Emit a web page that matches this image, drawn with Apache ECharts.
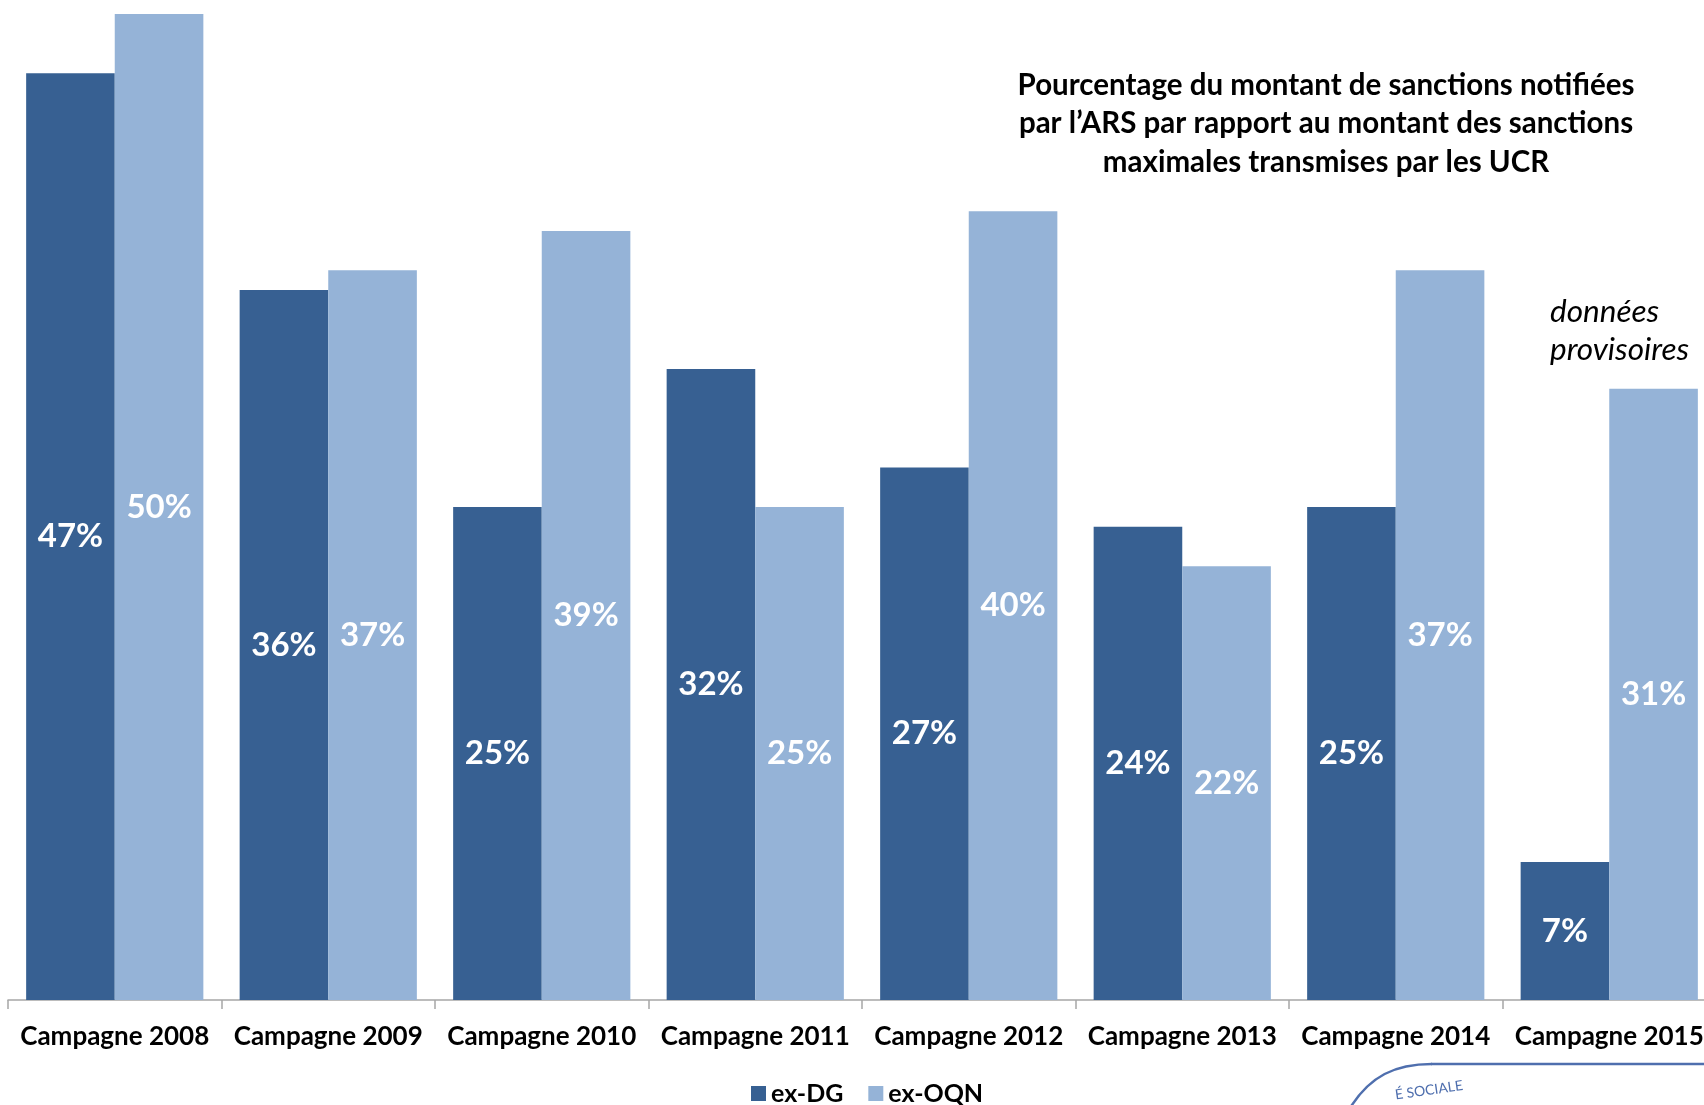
<!DOCTYPE html>
<html>
<head>
<meta charset="utf-8">
<script src="https://cdn.jsdelivr.net/npm/echarts@6/dist/echarts.min.js"></script>
<style>
  html, body { margin: 0; padding: 0; background: #ffffff; }
  #chart { width: 1704px; height: 1105px; }
</style>
</head>
<body>
<div id="chart"></div>
<script>
// Campaigns on the horizontal axis
const categories = ['Campagne 2008', 'Campagne 2009', 'Campagne 2010', 'Campagne 2011',
                    'Campagne 2012', 'Campagne 2013', 'Campagne 2014', 'Campagne 2015'];
// Share (%) of notified sanctions vs. maximum sanctions sent by the UCR
const exDG  = [47, 36, 25, 32, 27, 24, 25, 7];
const exOQN = [50, 37, 39, 25, 40, 22, 37, 31];

const FONT = 'Lato, "Open Sans", sans-serif';
const DARK = '#376092';
const LIGHT = '#95b3d7';
const LOGO = '#4f6fae';

const chart = echarts.init(document.getElementById('chart'), null, { renderer: 'canvas' });

const barLabel = {
  show: true,
  position: 'inside',
  color: '#ffffff',
  fontFamily: FONT,
  fontWeight: 'bold',
  fontSize: 33,
  formatter: p => p.value + '%'
};

chart.setOption({
  animation: false,
  backgroundColor: '#ffffff',
  // the last campaign runs slightly past the right edge
  grid: {
    left: 8, top: 14, right: -12, bottom: 105,
    containLabel: false,
    outerBoundsMode: 'none'
  },
  xAxis: {
    type: 'category',
    data: categories,
    axisLine: { lineStyle: { color: '#a6a6a6', width: 1.5 } },
    axisTick: { show: true, length: 9, lineStyle: { color: '#a6a6a6', width: 1.5 } },
    axisLabel: {
      interval: 0,
      margin: 24,
      color: '#000000',
      fontFamily: FONT,
      fontWeight: 'bold',
      fontSize: 26
    }
  },
  yAxis: {
    type: 'value',
    min: 0,
    max: 50,
    show: false,
    splitLine: { show: false }
  },
  legend: {
    data: ['ex-DG', 'ex-OQN'],
    left: 746,
    bottom: -6,
    icon: 'rect',
    itemWidth: 15,
    itemHeight: 15,
    itemGap: 25,
    textStyle: {
      color: '#000000',
      fontFamily: FONT,
      fontWeight: 'bold',
      fontSize: 25
    }
  },
  series: [
    {
      name: 'ex-DG',
      type: 'bar',
      data: exDG,
      barGap: '0%',
      barCategoryGap: '17%',
      itemStyle: { color: DARK },
      label: barLabel
    },
    {
      name: 'ex-OQN',
      type: 'bar',
      data: exOQN,
      barGap: '0%',
      barCategoryGap: '17%',
      itemStyle: { color: LIGHT },
      label: barLabel
    }
  ],
  graphic: [
    {
      type: 'text',
      x: 1326,
      y: 66,
      style: {
        text: 'Pourcentage du montant de sanctions notifiées\npar l’ARS par rapport au montant des sanctions\nmaximales transmises par les UCR',
        textAlign: 'center',
        textVerticalAlign: 'top',
        fontFamily: FONT,
        fontWeight: 'bold',
        fontSize: 29.5,
        lineHeight: 38.5,
        fill: '#000000'
      }
    },
    {
      type: 'text',
      x: 1550,
      y: 293,
      style: {
        text: 'données\nprovisoires',
        textVerticalAlign: 'top',
        fontFamily: FONT,
        fontStyle: 'italic',
        fontSize: 31.5,
        lineHeight: 38,
        fill: '#000000'
      }
    },
    // partial stamp in the lower right corner
    {
      type: 'bezierCurve',
      shape: { x1: 1350, y1: 1108, cpx1: 1370, cpy1: 1076, cpx2: 1395, cpy2: 1064, x2: 1432, y2: 1064 },
      style: { fill: null, stroke: LOGO, lineWidth: 2.5 }
    },
    {
      type: 'line',
      shape: { x1: 1431, y1: 1064, x2: 1706, y2: 1064 },
      style: { stroke: LOGO, lineWidth: 2.5 }
    },
    {
      type: 'text',
      x: 1396,
      y: 1102,
      rotation: 0.14,
      style: {
        text: 'É SOCIALE',
        fontFamily: FONT,
        fontSize: 14,
        fill: LOGO,
        textVerticalAlign: 'bottom'
      }
    }
  ]
});
</script>
</body>
</html>
